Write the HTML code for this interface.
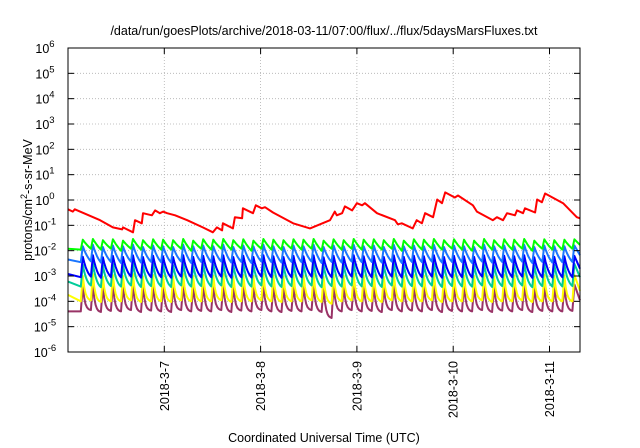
<!DOCTYPE html>
<html><head><meta charset="utf-8"><style>
html,body{margin:0;padding:0;background:#fff;}
svg{display:block;font-family:"Liberation Sans",sans-serif;}
</style></head><body>
<svg id="chart" width="640" height="448" viewBox="0 0 640 448">
<text x="324" y="35" font-size="12.5" text-anchor="middle">/data/run/goesPlots/archive/2018-03-11/07:00/flux/../flux/5daysMarsFluxes.txt</text>
<text x="324" y="442" font-size="12.5" text-anchor="middle">Coordinated Universal Time (UTC)</text>
<text transform="translate(32,200) rotate(-90)" font-size="12.5" text-anchor="middle">protons/cm<tspan dy="-5" font-size="9">2</tspan><tspan dy="5">-s-sr-MeV</tspan></text>
<g id="grid"></g><g id="series"></g><g id="axes"></g>
</svg>
<script>
// ---- data ----
const yTickExp = [-6,-5,-4,-3,-2,-1,0,1,2,3,4,5,6];
const xTickLabels = ["2018-3-7","2018-3-8","2018-3-9","2018-3-10","2018-3-11"];
const xTickHours = [24,48,72,96,120];
const redHours = [0,1.2,1.7,8.0,11.2,13.5,13.7,16.2,16.7,18.4,18.7,20.9,21.7,22.9,23.7,24.7,26.7,29.7,33.6,36.1,37.1,38.4,38.6,41.1,41.6,43.4,43.6,46.1,46.8,48.3,49.1,51.1,56.1,60.3,65.3,66.5,67.0,68.3,69.0,70.8,72.0,73.3,74.0,77.0,81.5,82.2,83.2,85.9,86.9,88.2,89.0,91.0,92.0,93.2,94.0,96.4,97.2,100.9,101.9,105.9,106.9,108.4,109.4,111.4,111.9,113.4,113.9,116.4,116.9,118.1,118.9,123.4,126.8,127.6];
const redValues = [0.43,0.35,0.43,0.16,0.083,0.069,0.083,0.053,0.16,0.12,0.30,0.25,0.39,0.30,0.35,0.30,0.25,0.16,0.083,0.053,0.083,0.063,0.12,0.076,0.21,0.19,0.47,0.30,0.62,0.47,0.52,0.32,0.12,0.076,0.16,0.35,0.25,0.30,0.56,0.39,0.75,0.62,0.75,0.30,0.16,0.11,0.12,0.076,0.16,0.12,0.30,0.21,1.05,0.75,2.0,1.26,1.5,0.62,0.35,0.16,0.21,0.16,0.30,0.25,0.39,0.30,0.47,0.32,1.05,0.81,1.8,0.75,0.21,0.19];
const cycleHours = [3.7,6.2,8.7,11.2,13.7,16.2,18.7,21.2,23.7,26.2,28.7,31.2,33.7,36.2,38.7,41.2,43.7,46.2,48.7,51.2,53.7,56.2,58.7,61.2,63.7,66.2,68.7,71.2,73.7,76.2,78.7,81.2,83.7,86.2,88.7,91.2,93.7,96.2,98.7,101.2,103.7,106.2,108.7,111.2,113.7,116.2,118.7,121.2,123.7,126.2];
const greenStart = 0.012;
const greenPeak = [0.027,0.029,0.026,0.028,0.025,0.029,0.026,0.028,0.027,0.026,0.029,0.025,0.028,0.027,0.029,0.026,0.028,0.025,0.029,0.027,0.026,0.028,0.027,0.029,0.025,0.028,0.026,0.029,0.027,0.028,0.026,0.029,0.025,0.028,0.027,0.029,0.026,0.028,0.027,0.025,0.029,0.026,0.028,0.027,0.029,0.025,0.028,0.026,0.027,0.028];
const greenTrough = [0.011,0.012,0.011,0.012,0.010,0.012,0.011,0.012,0.011,0.011,0.012,0.010,0.012,0.011,0.012,0.011,0.012,0.010,0.012,0.011,0.011,0.012,0.011,0.012,0.010,0.012,0.011,0.012,0.011,0.012,0.011,0.012,0.010,0.012,0.011,0.012,0.011,0.012,0.011,0.010,0.012,0.011,0.012,0.011,0.012,0.010,0.012,0.011,0.011,0.012];
const lblueStart = 0.0045;
const lbluePeak = [0.015,0.017,0.014,0.016,0.015,0.017,0.014,0.016,0.015,0.014,0.017,0.015,0.016,0.015,0.017,0.014,0.016,0.015,0.017,0.015,0.014,0.016,0.015,0.017,0.014,0.016,0.015,0.017,0.015,0.016,0.014,0.017,0.015,0.016,0.015,0.017,0.014,0.016,0.015,0.014,0.017,0.015,0.016,0.015,0.017,0.014,0.016,0.015,0.015,0.016];
const lblueTrough = [0.0035,0.0038,0.0034,0.0036,0.0033,0.0037,0.0034,0.0036,0.0035,0.0034,0.0037,0.0033,0.0036,0.0035,0.0037,0.0034,0.0036,0.0033,0.0037,0.0035,0.0034,0.0036,0.0035,0.0037,0.0033,0.0036,0.0034,0.0037,0.0035,0.0036,0.0034,0.0037,0.0033,0.0036,0.0035,0.0037,0.0034,0.0036,0.0035,0.0033,0.0037,0.0034,0.0036,0.0035,0.0037,0.0033,0.0036,0.0034,0.0035,0.0036];
const blueStart = 0.0012;
const bluePeak = [0.0058,0.0066,0.0055,0.0062,0.0057,0.0065,0.0056,0.0063,0.0060,0.0056,0.0066,0.0057,0.0062,0.0060,0.0065,0.0056,0.0063,0.0057,0.0066,0.0060,0.0056,0.0062,0.0060,0.0065,0.0055,0.0063,0.0057,0.0066,0.0060,0.0062,0.0056,0.0065,0.0057,0.0063,0.0060,0.0066,0.0056,0.0062,0.0060,0.0057,0.0065,0.0056,0.0063,0.0060,0.0066,0.0055,0.0062,0.0057,0.0060,0.0062];
const blueTrough = [0.0009,0.00095,0.00085,0.0009,0.00088,0.00095,0.00086,0.0009,0.0009,0.00086,0.00095,0.00088,0.0009,0.0009,0.00095,0.00086,0.0009,0.00088,0.00095,0.0009,0.00086,0.0009,0.0009,0.00095,0.00085,0.0009,0.00088,0.00095,0.0009,0.0009,0.00086,0.00095,0.00088,0.0009,0.0009,0.00095,0.00086,0.0009,0.0009,0.00088,0.00095,0.00086,0.0009,0.0009,0.00095,0.00085,0.0009,0.00088,0.0009,0.0009];
const tealStart = 0.0006;
const tealPeak = [0.0028,0.0032,0.0027,0.0030,0.0028,0.0032,0.0027,0.0031,0.0029,0.0027,0.0032,0.0028,0.0030,0.0029,0.0032,0.0027,0.0031,0.0028,0.0032,0.0029,0.0027,0.0030,0.0029,0.0032,0.0027,0.0031,0.0028,0.0032,0.0029,0.0030,0.0027,0.0032,0.0028,0.0031,0.0029,0.0032,0.0027,0.0030,0.0029,0.0028,0.0032,0.0027,0.0031,0.0029,0.0032,0.0027,0.0030,0.0028,0.0029,0.0030];
const tealTrough = [0.00038,0.00042,0.00036,0.0004,0.00038,0.00042,0.00037,0.0004,0.00039,0.00037,0.00042,0.00038,0.0004,0.00039,0.00042,0.00037,0.0004,0.00038,0.00042,0.00039,0.00037,0.0004,0.00039,0.00042,0.00036,0.0004,0.00038,0.00042,0.00039,0.0004,0.00037,0.00042,0.00038,0.0004,0.00039,0.00042,0.00037,0.0004,0.00039,0.00038,0.00042,0.00037,0.0004,0.00039,0.00042,0.00036,0.0004,0.00038,0.00039,0.0004];
const yellowStart = 0.00018;
const yellowPeak = [0.0010,0.0012,0.00095,0.0011,0.0010,0.0012,0.00095,0.0011,0.00105,0.00095,0.0012,0.0010,0.0011,0.00105,0.0012,0.00095,0.0011,0.0010,0.0012,0.00105,0.00095,0.0011,0.00105,0.0012,0.00095,0.0011,0.0010,0.0012,0.00105,0.0011,0.00095,0.0012,0.0010,0.0011,0.00105,0.0012,0.00095,0.0011,0.00105,0.0010,0.0012,0.00095,0.0011,0.00105,0.0012,0.00095,0.0011,0.0010,0.00105,0.0011];
const yellowTrough = [0.0001,0.00011,0.000095,0.0001,0.0001,0.00011,0.000095,0.0001,0.0001,0.000095,0.00011,0.0001,0.0001,0.0001,0.00011,0.000095,0.0001,0.0001,0.00011,0.0001,0.000095,0.0001,0.0001,0.00011,0.000095,0.00008,0.0001,0.00011,0.0001,0.0001,0.000095,0.00011,0.0001,0.0001,0.0001,0.00011,0.000095,0.0001,0.0001,0.0001,0.00011,0.000095,0.0001,0.0001,0.00011,0.000095,0.0001,0.0001,0.0001,0.0001];
const purpleStart = 0.00004;
const purplePeak = [0.00042,0.0005,0.0004,0.00046,0.00042,0.0005,0.0004,0.00047,0.00044,0.0004,0.0005,0.00042,0.00046,0.00044,0.0005,0.0004,0.00047,0.00042,0.0005,0.00044,0.0004,0.00046,0.00044,0.0005,0.0004,0.00047,0.00042,0.0005,0.00044,0.00046,0.0004,0.0005,0.00042,0.00047,0.00044,0.0005,0.0004,0.00046,0.00044,0.00042,0.0005,0.0004,0.00047,0.00044,0.0005,0.0004,0.00046,0.00042,0.00044,0.00046];
const purpleTrough = [0.00004,0.000045,0.000038,0.000042,0.00004,0.000045,0.000038,0.000043,0.00004,0.000038,0.000045,0.00004,0.000042,0.00004,0.000045,0.000038,0.000043,0.00004,0.000045,0.00004,0.000038,0.000042,0.00004,0.000045,0.000038,0.000022,0.00004,0.000045,0.00004,0.000042,0.000038,0.000045,0.00004,0.000043,0.00004,0.000045,0.000038,0.000042,0.00004,0.00004,0.000045,0.000038,0.000043,0.00004,0.000045,0.000038,0.000042,0.00004,0.00004,0.000042];

// ---- layout ----
const L=68,R=580,T=48,B=352,H0=0,H1=127.6,E0=-6,E1=6;
const xs=h=>L+(h-H0)/(H1-H0)*(R-L);
const ys=v=>B-(Math.log10(v)-E0)/(E1-E0)*(B-T);
const NS="http://www.w3.org/2000/svg";
function mk(tag,parent){const e=document.createElementNS(NS,tag);parent.appendChild(e);return e;}
const grid=document.getElementById('grid'),axes=document.getElementById('axes'),ser=document.getElementById('series');

yTickExp.forEach(ex=>{
  const y=B-(ex-E0)/(E1-E0)*(B-T);
  if(ex>E0&&ex<E1){
    const g=mk('line',grid);
    
    
    g.setAttribute('x1',L);g.setAttribute('x2',R);g.setAttribute('y1',y);g.setAttribute('y2',y);
    g.setAttribute('stroke','#b0b0b0');g.setAttribute('stroke-width','0.8');g.setAttribute('stroke-dasharray','1,2');
  }
  [[L,L+6],[R,R-6]].forEach(p=>{const t=mk('line',axes);
    
    
    t.setAttribute('x1',p[0]);t.setAttribute('x2',p[1]);t.setAttribute('y1',y);t.setAttribute('y2',y);t.setAttribute('stroke','#000');});
  const tx=mk('text',axes);
  
  
  tx.setAttribute('x',L-23);tx.setAttribute('y',y+5);tx.setAttribute('font-size','12.5');tx.setAttribute('text-anchor','middle');
  tx.innerHTML='10<tspan dy="-6" font-size="9.5">'+ex+'</tspan>';
});
xTickHours.forEach((h,i)=>{
  const x=xs(h);
  const g=mk('line',grid);
  
  
  g.setAttribute('x1',x);g.setAttribute('x2',x);g.setAttribute('y1',T);g.setAttribute('y2',B);
  g.setAttribute('stroke','#b0b0b0');g.setAttribute('stroke-width','0.8');g.setAttribute('stroke-dasharray','1,2');
  [[B,B-6],[T,T+6]].forEach(p=>{const t=mk('line',axes);
    
    
    t.setAttribute('x1',x);t.setAttribute('x2',x);t.setAttribute('y1',p[0]);t.setAttribute('y2',p[1]);t.setAttribute('stroke','#000');});
  const tx=mk('text',axes);
  
  
  tx.setAttribute('transform','translate('+(x+4.5)+','+(B+9)+') rotate(-90)');
  tx.setAttribute('font-size','12.5');tx.setAttribute('text-anchor','end');
  tx.textContent=xTickLabels[i];
});
const fr=mk('rect',axes);


fr.setAttribute('x',L);fr.setAttribute('y',T);fr.setAttribute('width',R-L);fr.setAttribute('height',B-T);
fr.setAttribute('fill','none');fr.setAttribute('stroke','#000');fr.setAttribute('stroke-width','1');

function sawPath(start,peaks,troughs,k){
  const pts=[[0,Math.log10(start)]];
  for(let i=0;i<cycleHours.length;i++){
    const tr=Math.log10(troughs[i]),pk=Math.log10(peaks[i]);
    const tStart=cycleHours[i]-0.5;
    if(i>0){
      const prevP=Math.log10(peaks[i-1]),t0=cycleHours[i-1];
      for(let s=1;s<6;s++){const f=s/6;const w=(Math.exp(-k*f)-Math.exp(-k))/(1-Math.exp(-k));
        pts.push([t0+(tStart-t0)*f,tr+(prevP-tr)*w]);}
    }
    pts.push([tStart,tr]);pts.push([cycleHours[i],pk]);
  }
  const last=cycleHours.length-1,pl=Math.log10(peaks[last]),tl=Math.log10(troughs[last]);
  pts.push([H1,pl+(tl-pl)*0.6]);
  return pts.map((p,i)=>(i?'L':'M')+xs(p[0]).toFixed(1)+','+(B-(p[1]-E0)/(E1-E0)*(B-T)).toFixed(1)).join('');
}
const list=[
 ['series-purple','#993366',purpleStart,purplePeak,purpleTrough,4],
 ['series-yellow','#ffff00',yellowStart,yellowPeak,yellowTrough,3.5],
 ['series-teal','#00cc99',tealStart,tealPeak,tealTrough,2],
 ['series-blue','#0000ff',blueStart,bluePeak,blueTrough,1.5],
 ['series-lightblue','#1a75ff',lblueStart,lbluePeak,lblueTrough,1],
 ['series-green','#00ff00',greenStart,greenPeak,greenTrough,0.5]];
list.forEach(s=>{
  const p=mk('path',ser);
  
  
  p.setAttribute('d',sawPath(s[2],s[3],s[4],s[5]));
  p.setAttribute('fill','none');p.setAttribute('stroke',s[1]);p.setAttribute('stroke-width','2');p.setAttribute('stroke-linejoin','round');
});
const rp=mk('path',ser);


rp.setAttribute('d',redHours.map((h,i)=>(i?'L':'M')+xs(h).toFixed(1)+','+ys(redValues[i]).toFixed(1)).join(''));
rp.setAttribute('fill','none');rp.setAttribute('stroke','#ff0000');rp.setAttribute('stroke-width','2');rp.setAttribute('stroke-linejoin','round');
</script>
</body></html>
